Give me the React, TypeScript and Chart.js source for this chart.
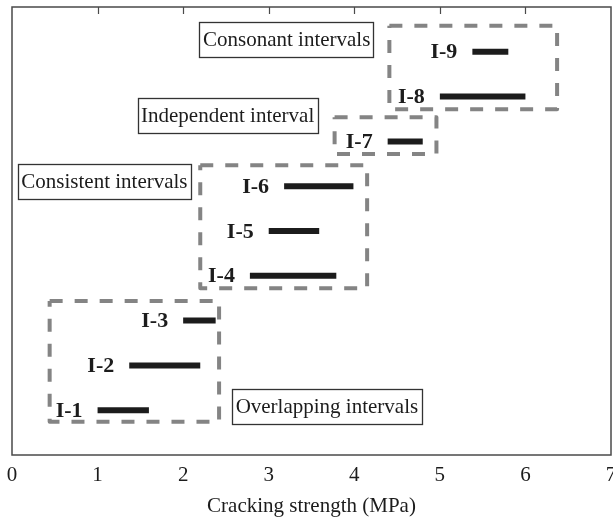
import React, { useEffect, useRef } from 'react';
import { Chart, registerables } from 'chart.js';

Chart.register(...registerables);

const intervalLabels = ['I-1', 'I-2', 'I-3', 'I-4', 'I-5', 'I-6', 'I-7', 'I-8', 'I-9'];
const intervalStart = [1.0, 1.37, 2.0, 2.78, 3.0, 3.18, 4.39, 5.0, 5.38];
const intervalEnd = [1.6, 2.2, 2.38, 3.79, 3.59, 3.99, 4.8, 6.0, 5.8];
const intervalLevel = [1, 2, 3, 4, 5, 6, 7, 8, 9];

const groupXMin = [0.44, 2.2, 3.77, 4.41];
const groupXMax = [2.42, 4.15, 4.96, 6.37];
const groupYMin = [0.74, 3.72, 6.72, 7.72];
const groupYMax = [3.44, 6.47, 7.54, 9.58];

const noteTexts = ['Overlapping intervals', 'Consistent intervals', 'Independent interval', 'Consonant intervals'];
const noteX = [3.68, 1.08, 2.52, 3.21];
const noteY = [1.08, 6.1, 7.58, 9.27];

const xTicks = [0, 1, 2, 3, 4, 5, 6, 7];
const xTitle = 'Cracking strength (MPa)';

const FONT = '"Liberation Serif", "Times New Roman", serif';

export default function App() {
  const ref = useRef<HTMLCanvasElement>(null);
  useEffect(() => {
    const canvas = ref.current!;
    const datasets: any[] = [];
    for (let i = 0; i < intervalLabels.length; i++) {
      datasets.push({
        data: [
          { x: intervalStart[i], y: intervalLevel[i] },
          { x: intervalEnd[i], y: intervalLevel[i] },
        ],
        showLine: true,
        borderColor: '#1c1c1c',
        borderWidth: 6,
        borderCapStyle: 'butt',
        pointRadius: 0,
        fill: false,
      });
    }
    for (let g = 0; g < groupXMin.length; g++) {
      datasets.push({
        data: [
          { x: groupXMin[g], y: groupYMax[g] },
          { x: groupXMax[g], y: groupYMax[g] },
          { x: groupXMax[g], y: groupYMin[g] },
          { x: groupXMin[g], y: groupYMin[g] },
          { x: groupXMin[g], y: groupYMax[g] },
        ],
        showLine: true,
        borderColor: '#848484',
        borderWidth: 4,
        borderDash: [13, 12],
        borderCapStyle: 'butt',
        borderJoinStyle: 'round',
        pointRadius: 0,
        fill: false,
      });
    }

    const decor = {
      id: 'decor',
      afterDatasetsDraw(chart: any) {
        const { ctx, chartArea, scales } = chart;
        const xs = scales.x;
        const ys = scales.y;
        ctx.save();
        // interval labels
        ctx.font = `bold 22px ${FONT}`;
        ctx.fillStyle = '#1c1c1c';
        ctx.textAlign = 'right';
        ctx.textBaseline = 'middle';
        for (let i = 0; i < intervalLabels.length; i++) {
          ctx.fillText(intervalLabels[i], xs.getPixelForValue(intervalStart[i]) - 15, ys.getPixelForValue(intervalLevel[i]) + 1);
        }
        // notes
        ctx.font = `21px ${FONT}`;
        ctx.textAlign = 'center';
        for (let n = 0; n < noteTexts.length; n++) {
          const cx = xs.getPixelForValue(noteX[n]);
          const cy = ys.getPixelForValue(noteY[n]);
          const w = ctx.measureText(noteTexts[n]).width + 7;
          const h = 35;
          ctx.fillStyle = '#ffffff';
          ctx.fillRect(cx - w / 2, cy - h / 2, w, h);
          ctx.strokeStyle = '#333333';
          ctx.lineWidth = 1.3;
          ctx.strokeRect(Math.round(cx - w / 2) + 0.5, Math.round(cy - h / 2) + 0.5, Math.round(w), h);
          ctx.fillStyle = '#1c1c1c';
          ctx.fillText(noteTexts[n], cx, cy + 1);
        }
        // frame
        ctx.strokeStyle = '#4a4a4a';
        ctx.lineWidth = 1.5;
        ctx.strokeRect(chartArea.left, chartArea.top, chartArea.right - chartArea.left, chartArea.bottom - chartArea.top);
        // top inward ticks
        ctx.beginPath();
        for (const t of xTicks) {
          if (t === xTicks[0] || t === xTicks[xTicks.length - 1]) continue;
          const px = Math.round(xs.getPixelForValue(t)) + 0.5;
          ctx.moveTo(px, chartArea.top);
          ctx.lineTo(px, chartArea.top + 7);
        }
        ctx.lineWidth = 1.2;
        ctx.stroke();
        ctx.restore();
      },
    };

    const chart = new Chart(canvas, {
      type: 'scatter',
      data: { datasets },
      options: {
        animation: false,
        responsive: false,
        maintainAspectRatio: false,
        layout: { padding: { left: 12, right: 2, top: 7, bottom: 0 } },
        plugins: { legend: { display: false }, tooltip: { enabled: false } },
        scales: {
          x: {
            type: 'linear',
            min: 0,
            max: 7,
            afterBuildTicks: (scale: any) => {
              scale.ticks = xTicks.map((v) => ({ value: v }));
            },
            afterFit: (scale: any) => {
              scale.height = 62;
              scale.paddingLeft = 0;
              scale.paddingRight = 0;
            },
            grid: { display: false },
            border: { display: false },
            ticks: {
              color: '#1c1c1c',
              padding: 0,
              maxRotation: 0,
              font: { family: FONT, size: 21 },
            },
            title: {
              display: true,
              text: xTitle,
              color: '#1c1c1c',
              font: { family: FONT, size: 21 },
              padding: { top: 0, bottom: -2 },
            },
          },
          y: {
            type: 'linear',
            min: 0,
            max: 10,
            display: false,
          },
        },
      },
      plugins: [decor],
    });
    return () => chart.destroy();
  }, []);
  return (
    <canvas
      ref={ref}
      width={613}
      height={517}
      style={{ position: 'fixed', left: 0, top: 0, width: 613, height: 517, background: '#fff' }}
    />
  );
}
